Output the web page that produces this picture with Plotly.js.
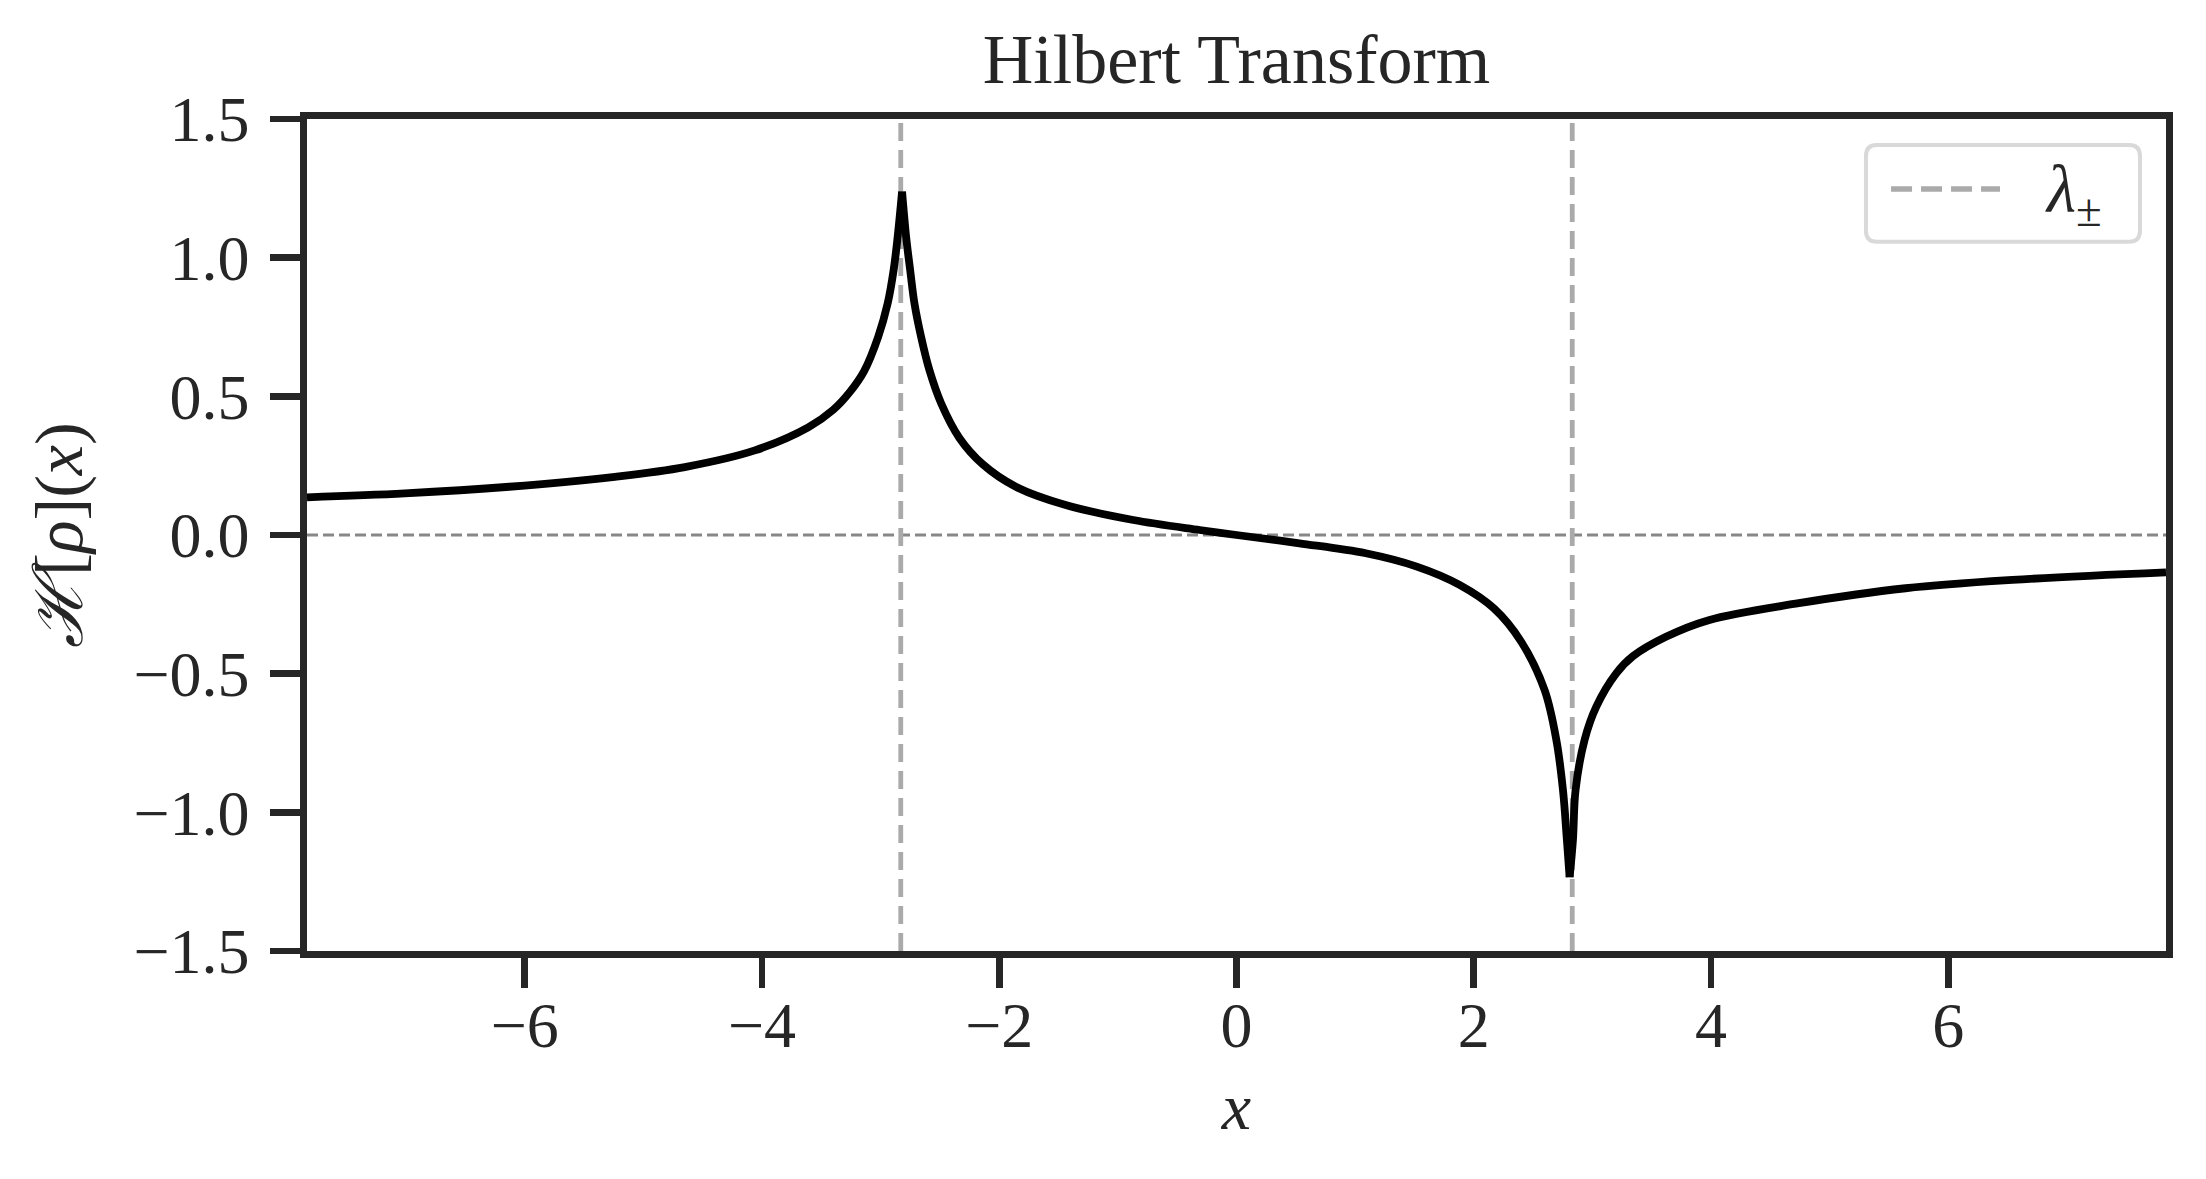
<!DOCTYPE html>
<html>
<head>
<meta charset="utf-8">
<script src="https://cdn.plot.ly/plotly-3.0.1.min.js"></script>
<style>
  html, body { margin: 0; padding: 0; background: #ffffff; }
  #chart { width: 2206px; height: 1179px; }
</style>
</head>
<body>
<div id="chart"></div>
<script>
// ---- data ----
const xVals = [-7.835, -7.01, -6.13, -5.24, -4.65, -4.06, -3.61, -3.40, -3.26, -3.14,
  -3.02, -2.94, -2.89, -2.856, -2.819, -2.785, -2.751, -2.715, -2.659, -2.589,
  -2.49, -2.336, -2.139, -1.86, -1.44, -0.87, -0.31, 0.0, 0.53, 1.09,
  1.52, 1.88, 2.17, 2.40, 2.597, 2.696, 2.752, 2.785, 2.808, 2.836,
  2.858, 2.934, 3.033, 3.201, 3.342, 3.62, 3.98, 4.74, 5.64, 6.54, 7.835];
const hilbertVals = [0.136, 0.150, 0.174, 0.210, 0.245, 0.305, 0.388, 0.451, 0.515, 0.590,
  0.715, 0.836, 0.956, 1.076, 1.238, 1.076, 0.956, 0.836, 0.715, 0.595,
  0.475, 0.350, 0.255, 0.174, 0.108, 0.054, 0.018, 0.0, -0.030, -0.066,
  -0.114, -0.180, -0.265, -0.385, -0.559, -0.739, -0.920, -1.100, -1.234, -1.100,
  -0.920, -0.739, -0.619, -0.499, -0.437, -0.367, -0.307, -0.246, -0.192, -0.162, -0.135];
const lambdaEdges = [-2.83, 2.83];
const zeroLevel = [0];
const xRange = [-7.835, 7.835];
const yRange = [-1.5, 1.5];
const xTicks = [-6, -4, -2, 0, 2, 4, 6];
const yTicks = [-1.5, -1.0, -0.5, 0.0, 0.5, 1.0, 1.5];
const titleText = 'Hilbert Transform';
const xLabel = '<i>x</i>';
const yLabel = '<i>ℋ</i>[<i>ρ</i>](<i>x</i>)';
const legendLabel = '<i>λ</i><sub>±</sub>';

// ---- build traces ----
const FONT = 'Liberation Serif, DejaVu Serif, serif';
const INK = '#262626';

const lamX = [], lamY = [];
lambdaEdges.forEach(function (v, i) {
  if (i > 0) { lamX.push(null); lamY.push(null); }
  lamX.push(v, v); lamY.push(yRange[0], yRange[1]);
});

// split the curve at its two cusps (max and min) so each piece is smoothed separately
let iMax = 0, iMin = 0;
hilbertVals.forEach(function (v, i) {
  if (v > hilbertVals[iMax]) iMax = i;
  if (v < hilbertVals[iMin]) iMin = i;
});
const pieces = [[0, iMax], [iMax, iMin], [iMin, hilbertVals.length - 1]];

const traces = [
  {
    x: lamX, y: lamY, type: 'scatter', mode: 'lines',
    line: { color: '#aaaaaa', width: 4.8, dash: '18px,9px' },
    hoverinfo: 'skip', showlegend: false
  }
];
pieces.forEach(function (p) {
  traces.push({
    x: xVals.slice(p[0], p[1] + 1), y: hilbertVals.slice(p[0], p[1] + 1),
    type: 'scatter', mode: 'lines',
    line: { color: '#000000', width: 7.8, shape: 'spline', smoothing: 1 },
    showlegend: false
  });
});

// rounded legend frame (paper coordinates)
function roundRect(x0, y0, x1, y1, rx, ry) {
  return 'M' + (x0 + rx) + ',' + y0 +
    ' L' + (x1 - rx) + ',' + y0 + ' Q' + x1 + ',' + y0 + ' ' + x1 + ',' + (y0 + ry) +
    ' L' + x1 + ',' + (y1 - ry) + ' Q' + x1 + ',' + y1 + ' ' + (x1 - rx) + ',' + y1 +
    ' L' + (x0 + rx) + ',' + y1 + ' Q' + x0 + ',' + y1 + ' ' + x0 + ',' + (y1 - ry) +
    ' L' + x0 + ',' + (y0 + ry) + ' Q' + x0 + ',' + y0 + ' ' + (x0 + rx) + ',' + y0 + ' Z';
}
const plotW = 1859, plotH = 832;

const layout = {
  width: 2206, height: 1179,
  margin: { l: 307, r: 40, t: 119, b: 228, pad: 0 },
  paper_bgcolor: '#ffffff', plot_bgcolor: '#ffffff',
  font: { family: FONT, color: INK, size: 63 },
  title: {
    text: titleText, x: 0.5, xref: 'paper', xanchor: 'center',
    y: 0.950, yref: 'container', yanchor: 'middle',
    font: { family: FONT, size: 70, color: INK }
  },
  xaxis: {
    range: xRange, tickvals: xTicks, tickformat: 'd',
    showgrid: false, zeroline: false,
    showline: true, linecolor: INK, linewidth: 6.7, mirror: true,
    ticks: 'outside', ticklen: 30, tickwidth: 6.7, tickcolor: INK,
    ticklabelstandoff: -18,
    tickfont: { family: FONT, size: 64, color: INK },
    title: { text: xLabel, font: { family: FONT, size: 66, color: INK }, standoff: 26 },
    automargin: false, fixedrange: true
  },
  yaxis: {
    range: yRange, tickvals: yTicks, tickformat: '.1f',
    showgrid: false, zeroline: false,
    showline: true, linecolor: INK, linewidth: 6.7, mirror: true,
    ticks: 'outside', ticklen: 30, tickwidth: 6.7, tickcolor: INK,
    ticklabelstandoff: 8,
    tickfont: { family: FONT, size: 64, color: INK },
    title: { text: yLabel, font: { family: FONT, size: 68, color: INK }, standoff: 31 },
    automargin: false, fixedrange: true
  },
  shapes: [
    {
      type: 'line', xref: 'paper', yref: 'y', x0: 0, x1: 1,
      y0: zeroLevel[0], y1: zeroLevel[0],
      line: { color: '#888888', width: 2.8, dash: '11px,5px' }, layer: 'below'
    },
    {
      type: 'path', xref: 'paper', yref: 'paper',
      path: roundRect(0.8386, 0.8525, 0.9860, 0.9688, 11 / plotW, 11 / plotH),
      fillcolor: 'rgba(255,255,255,0.85)',
      line: { color: '#d9d9d9', width: 4 }, layer: 'above'
    },
    {
      type: 'line', xref: 'paper', yref: 'paper',
      x0: 0.8521, x1: 0.9107, y0: 0.9159, y1: 0.9159,
      line: { color: '#aaaaaa', width: 5.5, dash: '21px,9px' }, layer: 'above'
    }
  ],
  annotations: [
    {
      text: legendLabel, xref: 'paper', yref: 'paper',
      x: 0.934, y: 0.9100, xanchor: 'left', yanchor: 'middle',
      showarrow: false, font: { family: FONT, size: 67, color: INK }
    }
  ]
};

Plotly.newPlot('chart', traces, layout, { displayModeBar: false, staticPlot: true });
</script>
</body>
</html>
